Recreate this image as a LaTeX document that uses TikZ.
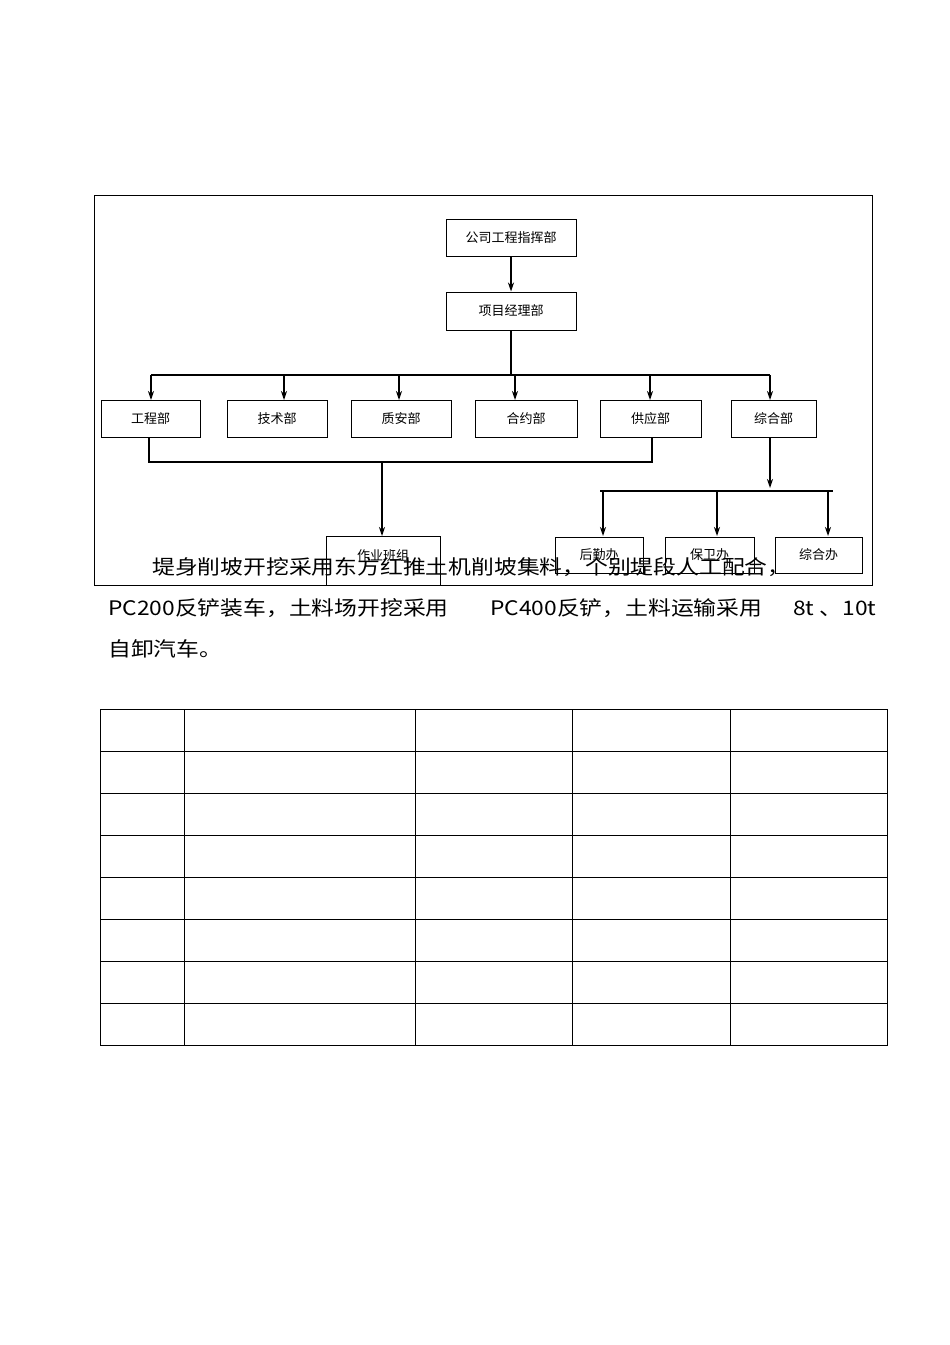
\documentclass[tikz,border=0pt]{standalone}
\usepackage{fontspec}
\newfontfamily\cjk{Noto Sans CJK SC}
\newfontfamily\cjkw[FakeStretch=1.14]{Noto Sans CJK SC}
\usetikzlibrary{arrows.meta}
\begin{document}
\begin{tikzpicture}[x=1pt,y=-1pt,
  box/.style={draw,line width=1pt,font=\cjk\fontsize{13}{15}\selectfont,inner sep=0pt},
  arr/.style={-{Stealth[length=9pt,width=6pt]},line width=1.3pt},
  ln/.style={line width=1.2pt},
  para/.style={font=\cjkw\fontsize{20}{24}\selectfont,anchor=base west,inner sep=0pt}]
\useasboundingbox (0,0) rectangle (950,1345);
\draw[line width=0.9pt] (94,195) rectangle (872,585);
\node[box,minimum width=130pt,minimum height=37pt] (top) at (511,237.5) {公司工程指挥部};
\node[box,minimum width=130pt,minimum height=38pt] (pm) at (511,311) {项目经理部};
\foreach \n/\a/\b/\t in {d1/101/200/工程部,d2/227/327/技术部,d3/351/451/质安部,d4/475/577/合约部,d5/600/701/供应部,d6/731/816/综合部}
  \node[box,minimum width={\b-\a},minimum height=37pt] (\n) at ({(\a+\b)/2},418.5) {\t};
\foreach \n/\a/\b/\t in {s1/555/643/后勤办,s2/665/754/保卫办,s3/775/862/综合办}
  \node[box,minimum width={\b-\a},minimum height=36pt] (\n) at ({(\a+\b)/2},555) {\t};
\node[box,minimum width=114pt,minimum height=49pt,anchor=north] (team) at (383,536) {\raisebox{12pt}{作业班组}};
\coordinate (h1) at (151,375); \coordinate (h2) at (770,375);
\draw[arr] (top) -- (pm);
\draw[ln] (pm.south) -- (511,375);
\draw[ln] (h1) -- (h2);
\foreach \n/\x in {d1/151,d2/284,d3/399,d4/515,d5/650,d6/770}
  \draw[arr] (\x,375) -- (\x,400);
\draw[ln] (149,437) -- (149,462) -- (652,462) -- (652,437);
\draw[arr] (382,462) -- (team.north -| 382,0);
\draw[arr] (d6.south -| 770,0) -- (770,488);
\draw[ln] (600,491) -- (833,491);
\foreach \x in {603,717,828} \draw[arr] (\x,491) -- (\x,536);
\node[para] (p1) at (152,574) {堤身削坡开挖采用东方红推土机削坡集料，个别堤段人工配合，};
\node[para] (p2) at (108,615) {PC200反铲装车，土料场开挖采用};
\node[para] (p3) at (490,615) {PC400反铲，土料运输采用};
\node[para] (p4) at (793,615) {8t 、10t};
\node[para] (p5) at (108,656) {自卸汽车。};
\draw[line width=0.9pt] (100,709) rectangle (887,1045);
\foreach \x in {184,415,572,730} \draw[line width=0.9pt] (\x,709) -- (\x,1045);
\foreach \y in {751,793,835,877,919,961,1003} \draw[line width=0.9pt] (100,\y) -- (887,\y);
\end{tikzpicture}
\end{document}
